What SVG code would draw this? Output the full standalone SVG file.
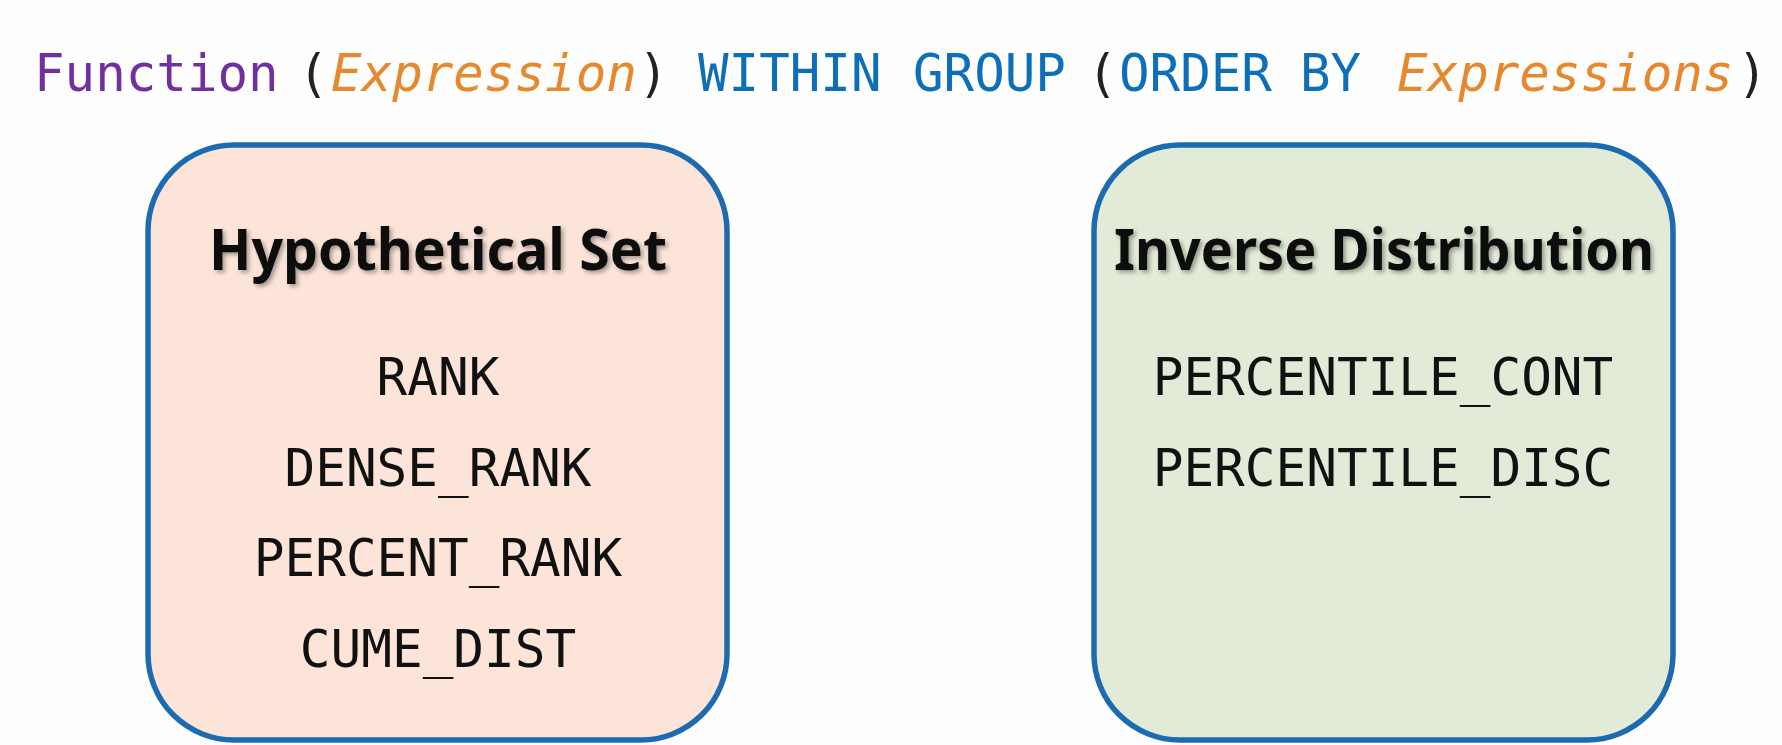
<svg xmlns="http://www.w3.org/2000/svg" width="1782" height="745" viewBox="0 0 1782 745">
<defs>
<filter id="shadow" x="-10%" y="-30%" width="120%" height="160%">
<feDropShadow dx="2.5" dy="2.5" stdDeviation="2" flood-color="#000" flood-opacity="0.35"/>
</filter>
</defs>
<style>
.title{font-family:"DejaVu Sans Mono","Liberation Mono",monospace;font-size:50.8px}
.fn{fill:#7030A0}
.ex{fill:#E6892E;font-style:italic}
.kw{fill:#0C6FB8}
.pn{fill:#222}
.box{stroke:#1C6AB0;stroke-width:5.5}
.hyp{fill:#FCE4D8}
.inv{fill:#E1EBD7}
.head{font-family:"Noto Sans","Open Sans",sans-serif;font-weight:bold;font-size:58px;fill:#111;text-anchor:middle;filter:url(#shadow)}
.item{font-family:"DejaVu Sans Mono","Liberation Mono",monospace;font-size:51px;fill:#111;text-anchor:middle}
</style>
<rect width="1782" height="745" fill="#FEFEFE"/>
<g id="title">
<text class="title" y="91"><tspan class="fn" x="34">Function</tspan> <tspan class="pn" x="298">(</tspan><tspan class="ex" x="331">Expression</tspan><tspan class="pn" x="638">)</tspan> <tspan class="kw" x="698">WITHIN</tspan> <tspan class="kw" x="913">GROUP</tspan> <tspan class="pn" x="1087">(</tspan><tspan class="kw" x="1119">ORDER</tspan> <tspan class="kw" x="1300">BY</tspan> <tspan class="ex" x="1397">Expressions</tspan><tspan class="pn" x="1737">)</tspan></text>
</g>
<g id="connectors"></g>
<g id="hypothetical-set">
<rect class="box hyp" x="148" y="145" width="579" height="595" rx="86" ry="86"/>
<text class="head" x="438" y="270" textLength="458" lengthAdjust="spacingAndGlyphs">Hypothetical Set</text>
<text class="item" x="438" y="395">RANK</text>
<text class="item" x="438" y="486">DENSE_RANK</text>
<text class="item" x="438" y="576">PERCENT_RANK</text>
<text class="item" x="438" y="667">CUME_DIST</text>
</g>
<g id="inverse-distribution">
<rect class="box inv" x="1094" y="145" width="579" height="595" rx="86" ry="86"/>
<text class="head" x="1384" y="270" textLength="540" lengthAdjust="spacingAndGlyphs">Inverse Distribution</text>
<text class="item" x="1383" y="395">PERCENTILE_CONT</text>
<text class="item" x="1383" y="486">PERCENTILE_DISC</text>
</g>
</svg>
